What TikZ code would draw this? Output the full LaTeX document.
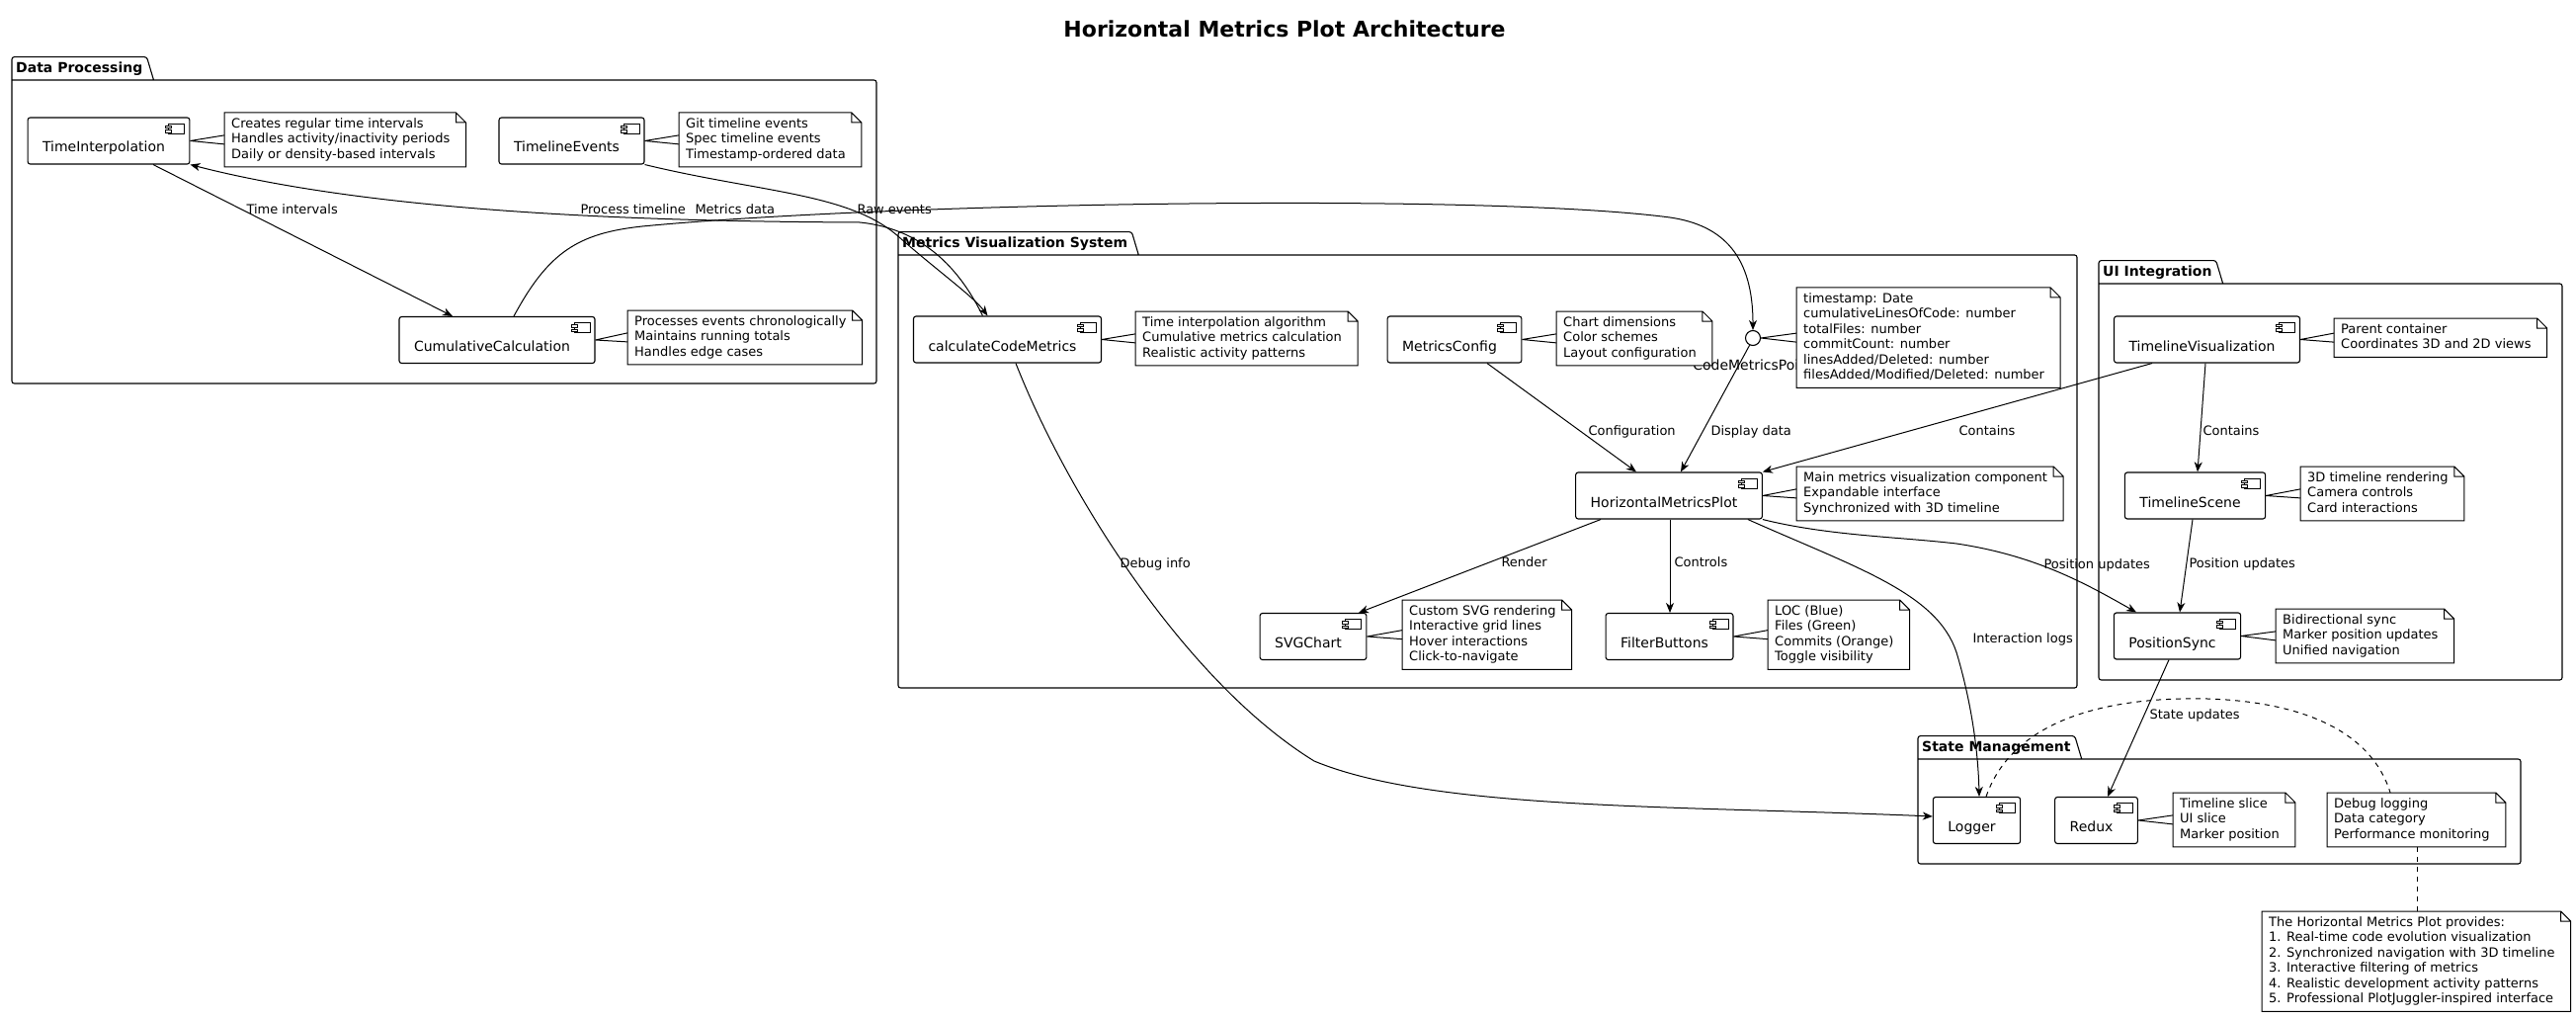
\documentclass[tikz,border=0pt]{standalone}
\usepackage{fontspec}
\setmainfont{DejaVu Sans}
\usetikzlibrary{arrows.meta}

\newcommand\compfont{\fontsize{14}{16.5}\selectfont}
\newcommand\notefont{\fontsize{13}{15.5}\selectfont}
\newcommand\pkgfont{\fontsize{14}{16.5}\selectfont\bfseries}
\newcommand\titlefont{\fontsize{22}{26}\selectfont\bfseries}

% border of a note, with its folded corner
\newcommand\notefold[1]{%
    \draw [line width=1pt, line join=miter] (#1.north west) -- ([xshift=-1pt]#1.north east)
        -- ([xshift=9pt,yshift=-10pt]#1.north east) -- ([xshift=9pt]#1.south east)
        -- (#1.south west) -- cycle
        ([xshift=-1pt]#1.north east) |- ([xshift=9pt,yshift=-10pt]#1.north east);}

\tikzset{
    comp/.style={draw, line width=1.1pt, rounded corners=2.5pt, fill=white,
        font=\compfont, text height=27pt, text depth=4pt,
        inner ysep=0pt, inner xsep=15pt, minimum height=47pt,
        execute at end node={\hspace*{10pt}},
        path picture={
            \draw [line width=0.9pt, sharp corners, fill=white]
                ([xshift=-5pt,yshift=-6pt]path picture bounding box.north east)
                rectangle ++(-16pt,-10pt);
            \draw [line width=0.9pt, sharp corners, fill=white]
                ([xshift=-24pt,yshift=-8pt]path picture bounding box.north east)
                rectangle ++(6pt,-2.5pt)
                ([xshift=-24pt,yshift=-12.5pt]path picture bounding box.north east)
                rectangle ++(6pt,-2.5pt);
        }},
    note/.style={fill=white, font=\notefont, align=left, anchor=north west,
        inner xsep=7pt, inner ysep=5pt,
        execute at begin node={\rule{0pt}{13.5pt}},
        execute at end node={\rule[-3.5pt]{0pt}{3.5pt}}},
    wedge/.style={line width=1pt},
    iface/.style={circle, draw, line width=1.1pt, fill=white,
        minimum size=15pt, inner sep=0pt},
    pkglabel/.style={font=\pkgfont, anchor=south west, inner xsep=4pt,
        inner ysep=4.5pt, text height=11pt, text depth=3pt},
    lbl/.style={font=\notefont, inner sep=0pt, text height=9.5pt,
        text depth=0pt, anchor=west},
    arr/.style={line width=1pt, -{Stealth[length=10pt, width=8pt, inset=3pt]}},
    notelink/.style={line width=1pt, dash pattern=on 5pt off 5pt}
}

\begin{document}
\begin{tikzpicture}[x=1pt, y=-1pt]
    \fill [white] (0, 0) rectangle (2607, 1032);
    \useasboundingbox (0, 0) rectangle (2607, 1032);

    \node [font=\titlefont] (title) at (1300, 29) {Horizontal Metrics Plot Architecture};

    % packages
    \foreach \p/\ptxt/\xa/\ya/\xb/\yb in {
        dp/Data Processing/12/81/887/388,
        mv/Metrics Visualization System/909/258/2102/696,
        ui/UI Integration/2124/287/2593/688,
        sm/State Management/1941/768/2551/874} {
        \node [pkglabel] (\p) at (\xa, \ya) {\ptxt};
        \draw [line width=1.1pt, rounded corners=2.5pt]
            (\xa, \ya) -- (\xb, \ya) -- (\xb, \yb) -- (\xa, \yb) -- (\xa, \ya)
            |- (\p.north east) -- ([xshift=7pt]\p.south east);
    }

    % components
    \node [comp] (ti) at (110, 142.5) {TimeInterpolation};
    \node [comp] (te) at (578.5, 142.5) {TimelineEvents};
    \node [comp] (cc) at (503, 344) {CumulativeCalculation};
    \node [comp] (ccm) at (1019.5, 343.5) {calculateCodeMetrics};
    \node [comp] (mc) at (1472, 343.5) {MetricsConfig};
    \node [iface] (cmp) at (1774, 342) {};
    \node [font=\compfont, inner sep=0pt, anchor=base] (cmpLabel) at (1774, 374) {CodeMetricsPoint};
    \node [comp] (hmp) at (1689, 501.5) {HorizontalMetricsPlot};
    \node [comp] (svg) at (1329, 644) {SVGChart};
    \node [comp] (fb) at (1689.5, 644) {FilterButtons};
    \node [comp] (tv) at (2233.5, 343.5) {TimelineVisualization};
    \node [comp] (ts) at (2221.5, 501.5) {TimelineScene};
    \node [comp] (ps) at (2203.5, 643.5) {PositionSync};
    \node [comp] (lg) at (2000.5, 830) {Logger};
    \node [comp] (rx) at (2121.5, 830) {Redux};

    % notes
    \node [note] (tiN) at (227, 114) {Creates regular time intervals\\Handles activity/inactivity periods\\Daily or density-based intervals};
    \node [note] (teN) at (687, 114) {Git timeline events\\Spec timeline events\\Timestamp-ordered data};
    \node [note] (ccN) at (635, 314) {Processes events chronologically\\Maintains running totals\\Handles edge cases};
    \node [note] (ccmN) at (1149, 315) {Time interpolation algorithm\\Cumulative metrics calculation\\Realistic activity patterns};
    \node [note] (mcN) at (1575, 315) {Chart dimensions\\Color schemes\\Layout configuration};
    \node [note] (cmpN) at (1818, 291) {timestamp: Date\\cumulativeLinesOfCode: number\\totalFiles: number\\commitCount: number\\linesAdded/Deleted: number\\filesAdded/Modified/Deleted: number};
    \node [note] (hmpN) at (1818, 472) {Main metrics visualization component\\Expandable interface\\Synchronized with 3D timeline};
    \node [note] (svgN) at (1419, 607) {Custom SVG rendering\\Interactive grid lines\\Hover interactions\\Click-to-navigate};
    \node [note] (fbN) at (1789, 607) {LOC (Blue)\\Files (Green)\\Commits (Orange)\\Toggle visibility};
    \node [note] (tvN) at (2362, 322) {Parent container\\Coordinates 3D and 2D views};
    \node [note] (tsN) at (2328, 472) {3D timeline rendering\\Camera controls\\Card interactions};
    \node [note] (psN) at (2303, 616) {Bidirectional sync\\Marker position updates\\Unified navigation};
    \node [note] (rxN) at (2199, 802) {Timeline slice\\UI slice\\Marker position};
    \node [note] (dbN) at (2355, 802) {Debug logging\\Data category\\Performance monitoring};
    \node [note] (sumN) at (2289, 922) {The Horizontal Metrics Plot provides:\\1. Real-time code evolution visualization\\2. Synchronized navigation with 3D timeline\\3. Interactive filtering of metrics\\4. Realistic development activity patterns\\5. Professional PlotJuggler-inspired interface};

    \foreach \n in {tiN, teN, ccN, ccmN, mcN, cmpN, hmpN, svgN, fbN, tvN, tsN, psN, rxN, dbN, sumN}
        \notefold{\n};

    % note wedges
    \foreach \a/\b in {ti/tiN, te/teN, cc/ccN, ccm/ccmN, mc/mcN, cmp/cmpN, hmp/hmpN,
        svg/svgN, fb/fbN, tv/tvN, ts/tsN, ps/psN, rx/rxN}
        \draw [wedge] (\a.east) -- ([yshift=4.5pt]\b.west) (\a.east) -- ([yshift=-4.5pt]\b.west);

    % data processing
    \draw [arr] ([xshift=45pt]ti.south) -- ([xshift=-45pt]cc.north)
        node [lbl] at (249, 212) {Time intervals};
    \draw [arr] (te.south east) .. controls (770, 195) and (860, 195) .. (910, 240)
        .. controls (950, 275) and (985, 300) .. ([xshift=-20pt]ccm.north)
        node [lbl] at (867, 212) {Raw events};
    \draw [arr] ([xshift=-25pt]ccm.north) .. controls (975, 280) and (940, 232) .. (870, 225)
        .. controls (650, 224) and (380, 215) .. (ti.south east)
        node [lbl] at (587, 212) {Process timeline};
    \draw [arr] ([xshift=17pt]cc.north) .. controls (555, 255) and (585, 236) .. (650, 229)
        .. controls (900, 205) and (1500, 195) .. (1690, 220)
        .. controls (1745, 228) and (1774, 260) .. (cmp.north)
        node [lbl] at (703, 212) {Metrics data};

    % metrics visualization
    \draw [arr] ([xshift=33pt]mc.south) -- ([xshift=-33pt]hmp.north)
        node [lbl] at (1607, 436) {Configuration};
    \draw [arr] (cmp.-115) -- ([xshift=12pt]hmp.north)
        node [lbl] at (1731, 436) {Display data};
    \draw [arr] ([xshift=-69pt]hmp.south) -- ([xshift=46pt]svg.north)
        node [lbl] at (1519, 569) {Render};
    \draw [arr] ([xshift=1pt]hmp.south) -- ([xshift=0.5pt]fb.north)
        node [lbl] at (1694, 569) {Controls};
    \draw [arr] ([xshift=8.5pt]ccm.south) .. controls (1080, 500) and (1200, 690) .. (1330, 770)
        .. controls (1450, 820) and (1700, 815) .. ([yshift=4pt]lg.west)
        node [lbl] at (1133, 570) {Debug info};
    \draw [arr] ([xshift=-15pt]hmp.south east) .. controls (1880, 575) and (1960, 600) .. (1980, 660)
        .. controls (1995, 710) and (2002, 760) .. ([xshift=2.5pt]lg.north)
        node [lbl] at (1996, 646) {Interaction logs};
    \draw [arr] (hmp.south east) .. controls (1850, 542) and (1920, 543) .. (1980, 550)
        .. controls (2060, 562) and (2110, 590) .. ([xshift=-41.5pt]ps.north)
        node [lbl] at (2068, 571) {Position updates};

    % ui integration
    \draw [arr] ([xshift=-55.5pt]tv.south) -- (hmp.north east)
        node [lbl] at (1982, 436) {Contains};
    \draw [arr] ([xshift=-1.5pt]tv.south) -- ([xshift=2.5pt]ts.north)
        node [lbl] at (2229, 436) {Contains};
    \draw [arr] ([xshift=-2.5pt]ts.south) -- ([xshift=2.5pt]ps.north)
        node [lbl] at (2215, 570) {Position updates};
    \draw [arr] ([xshift=-8.5pt]ps.south) -- ([xshift=11.5pt]rx.north)
        node [lbl] at (2175, 723) {State updates};

    % state management note links
    \draw [notelink] ([xshift=9.5pt]lg.north) .. controls (2040, 720) and (2150, 705) .. (2234, 707)
        .. controls (2330, 710) and (2400, 740) .. ([xshift=64pt]dbN.north west);
    \draw [notelink] ([xshift=91pt]dbN.south west) -- ([xshift=157pt]sumN.north west);
\end{tikzpicture}
\end{document}
